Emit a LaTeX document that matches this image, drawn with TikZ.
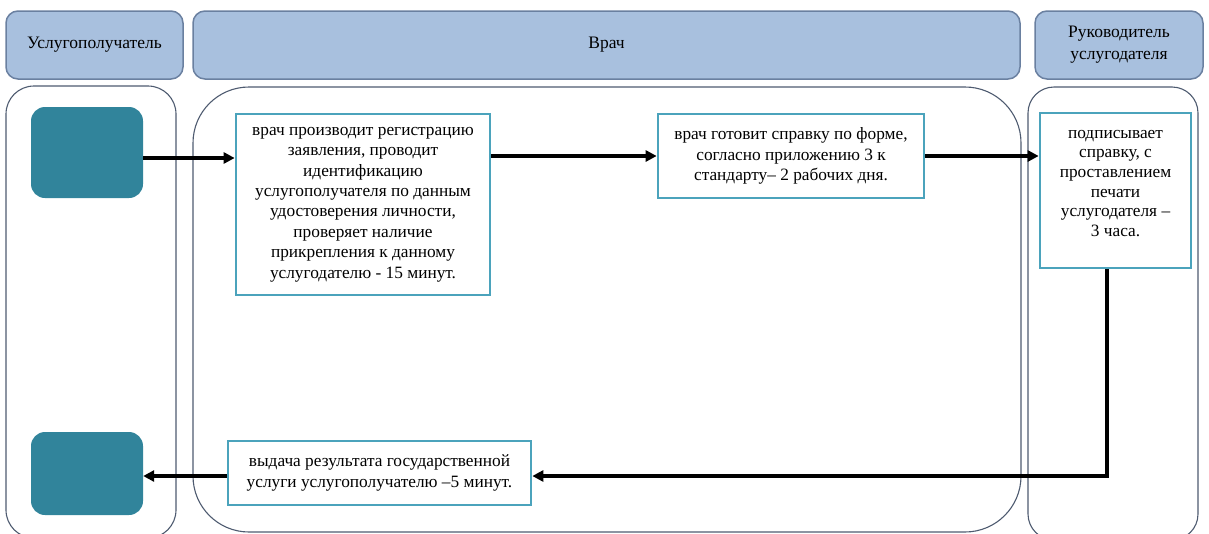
\documentclass[tikz,border=0pt]{standalone}
\usepackage{fontspec}
\setmainfont{Liberation Serif}
\usetikzlibrary{arrows.meta}
\definecolor{hdrfill}{HTML}{A8C0DE}
\definecolor{hdrline}{HTML}{6A80A0}
\definecolor{laneline}{HTML}{4E5B70}
\definecolor{tealfill}{HTML}{31849B}
\definecolor{boxline}{HTML}{4BA3BC}
\tikzset{
  header/.style={draw=hdrline, line width=1.5pt, fill=hdrfill, rounded corners=12pt, align=center, font=\fontsize{17.5}{22}\selectfont, inner sep=0pt},
  lane/.style={draw=laneline, line width=1.1pt},
  startend/.style={fill=tealfill, rounded corners=14pt, inner sep=0pt},
  stepbox/.style={draw=boxline, line width=2.7pt, fill=white, align=center, font=\fontsize{17.3}{20.4}\selectfont, inner sep=0pt},
  steptext/.style={align=center, font=\fontsize{17.3}{19.7}\selectfont, inner sep=0pt},
  arr/.style={line width=3.6pt, -{Triangle[length=11pt,width=11pt]}},
}
\begin{document}
\begin{tikzpicture}[x=1pt,y=-1pt]
\useasboundingbox (0,0) rectangle (1209,533);
\clip (0,0) rectangle (1209,533);
% headers
\node[header, minimum width=177pt, minimum height=68pt] (h1) at (94.5,45) {Услугополучатель};
\node[header, minimum width=827pt, minimum height=68pt] (h2) at (606.5,45) {Врач};
\node[header, minimum width=168pt, minimum height=68pt] (h3) at (1119,45) {Руководитель\\услугодателя};
% lanes
\draw[lane, rounded corners=28pt] (6,86) rectangle (176,538);
\draw[lane, rounded corners=56pt] (193,87) rectangle (1021,532);
\draw[lane, rounded corners=26pt] (1028,87) rectangle (1198,540);
% start / end
\node[startend, minimum width=112pt, minimum height=91pt] (s1) at (87,152.5) {};
\node[startend, minimum width=112pt, minimum height=83pt] (s2) at (87,473.5) {};
% process boxes
\node[stepbox, minimum width=254pt, minimum height=181pt] (a) at (363,204.5) {врач производит регистрацию\\заявления, проводит\\идентификацию\\услугополучателя по данным\\удостоверения личности,\\проверяет наличие\\прикрепления к данному\\услугодателю - 15 минут.};
\node[stepbox, minimum width=266pt, minimum height=84pt] (b) at (791,156) {врач готовит справку по форме,\\согласно приложению 3 к\\стандарту– 2 рабочих дня.};
\node[stepbox, minimum width=151pt, minimum height=155pt] (c) at (1115.5,190.5) {};
\node[steptext, anchor=north] (ct) at ([yshift=-18pt]c.north) {подписывает\\справку, с\\проставлением\\печати\\услугодателя –\\3 часа.};
\node[stepbox, minimum width=303pt, minimum height=64pt] (d) at (379.5,473) {выдача результата государственной\\услуги услугополучателю –5 минут.};
% connectors
\draw[arr] ([yshift=-5.5pt]s1.east) -- ([yshift=-5.5pt]s1.east -| a.west);
\draw[arr] (a.east |- b.west) -- (b.west);
\draw[arr] (b.east) -- (c.west |- b.east);
\coordinate (cb) at ([xshift=-8.5pt]c.south);
\draw[arr] (cb) |- ([yshift=-3pt]d.east);
\draw[arr] ([yshift=-3pt]d.west) -- ([yshift=-3pt]d.west -| s2.east);
\end{tikzpicture}
\end{document}
